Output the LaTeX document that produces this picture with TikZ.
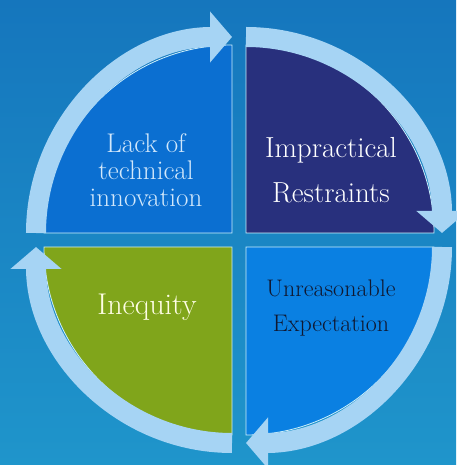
\documentclass[tikz,border=0pt]{standalone}
\usepackage{tikz}
\usetikzlibrary{arrows.meta}

\definecolor{bgtop}{HTML}{1576BD}
\definecolor{bgbot}{HTML}{1F95CB}
\definecolor{ringblue}{HTML}{A6D4F4}
\definecolor{quadTL}{HTML}{0B6FD1}
\definecolor{quadTR}{HTML}{28307D}
\definecolor{quadBL}{HTML}{80A51B}
\definecolor{quadBR}{HTML}{0A80E2}
\definecolor{txtlight}{HTML}{D2E8FB}
\definecolor{txtdark}{HTML}{101830}

\tikzset{
  quad/.style={draw=white!80!cyan, line width=0.8pt},
  ring/.style={draw=ringblue, line width=20pt, -{Triangle[length=22pt,width=50pt]}},
  lbl/.style={align=center, inner sep=0pt}
}

\begin{document}
\begin{tikzpicture}[x=1pt,y=1pt]
        
        \def\gap{7}
        \def\rq{188}
        \def\rr{196}
        
        \useasboundingbox (-239,-225) rectangle (217,240);
        \shade[top color=bgtop,bottom color=bgbot] (-239,-225) rectangle (217,240);
        
        % the four quarters
        \filldraw[quad,fill=quadTL] (-\gap,\gap) -- ({-\gap-\rq},\gap) arc[start angle=180,end angle=90,radius=\rq] -- cycle;
        \filldraw[quad,fill=quadTR] (\gap,\gap) -- (\gap,{\gap+\rq}) arc[start angle=90,end angle=0,radius=\rq] -- cycle;
        \filldraw[quad,fill=quadBR] (\gap,-\gap) -- ({\gap+\rq},-\gap) arc[start angle=0,end angle=-90,radius=\rq] -- cycle;
        \filldraw[quad,fill=quadBL] (-\gap,-\gap) -- (-\gap,{-\gap-\rq}) arc[start angle=-90,end angle=-180,radius=\rq] -- cycle;
        
        % ring arrows, clockwise
        \draw[ring] ({-\gap-\rr},\gap) arc[start angle=180,end angle=90,radius=\rr];
        \draw[ring] (\gap,{\gap+\rr}) arc[start angle=90,end angle=0,radius=\rr];
        \draw[ring] ({\gap+\rr},-\gap) arc[start angle=0,end angle=-90,radius=\rr];
        \draw[ring] (-\gap,{-\gap-\rr}) arc[start angle=-90,end angle=-180,radius=\rr];
        
        \node[lbl,txtlight,font=\fontsize{27}{27}\selectfont] (lack) at (-93,70) {Lack of\\technical\\innovation};
        \node[lbl,white,font=\fontsize{29}{45}\selectfont] (restraints) at (92,70) {Impractical\\Restraints};
        \node[lbl,white!90!yellow,font=\fontsize{30}{34}\selectfont] (inequity) at (-92,-67) {Inequity};
        \node[lbl,txtdark,font=\fontsize{24}{35}\selectfont] (expectation) at (92,-68) {Unreasonable\\Expectation};
        
        \end{tikzpicture}
\end{document}
